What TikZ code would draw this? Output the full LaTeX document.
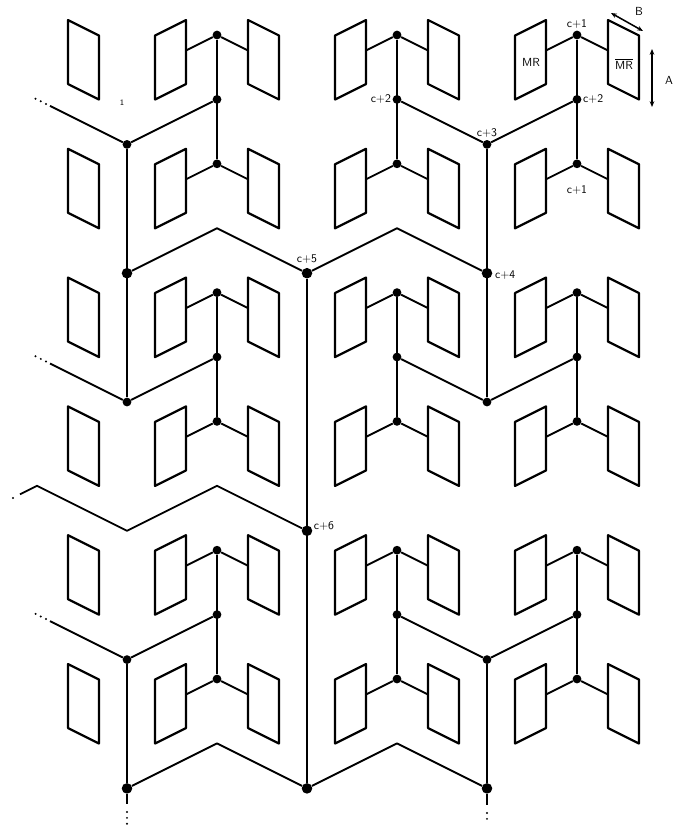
\documentclass[tikz,border=0pt]{standalone}
\usepackage{tikz}
\usetikzlibrary{arrows.meta, positioning, calc}

\tikzset{
  wire/.style={line width=1.6pt, line join=round},
  panel/.style={line width=1.9pt, line join=round},
  junction/.style={circle, fill=black, inner sep=0pt, minimum size=7.5pt},
  bigjunction/.style={junction, minimum size=9pt},
  lbl/.style={font=\sffamily\fontsize{10}{11}\selectfont, inner sep=1pt},
  dotsline/.style={line width=1.9pt, line cap=round, dash pattern=on 0pt off 5pt},
  dimline/.style={line width=1.3pt, {Stealth[length=5pt,width=4pt]}-{Stealth[length=5pt,width=4pt]}},
}

\begin{document}
\begin{tikzpicture}[x=0.03cm, y=-0.03cm]
  \useasboundingbox (0,0) rectangle (682,827);

  % left column: only the right-wall panels are visible
  \foreach \r in {0,...,5} {
    \coordinate (u-A-\r) at (37, {35+128.8*\r});
    \draw[panel] ($(u-A-\r)+(31,-15)$) -- ++(0,64) -- ++(31,15.5) -- ++(0,-64) -- cycle;
  }

  % corner units: node on the corner, one panel on each wall
  \foreach \g/\gx in {B/217, C/397, D/577} {
    \foreach \r in {0,...,5} {
      \node[junction] (u-\g-\r) at (\gx, {35+128.8*\r}) {};
      \coordinate (pl-\g-\r) at ($(u-\g-\r)+(-31,15.5)$);
      \coordinate (pr-\g-\r) at ($(u-\g-\r)+(31,15.5)$);
      \draw[panel] ($(u-\g-\r)+(-31,-15)$) -- ++(0,64) -- ++(-31,15.5) -- ++(0,-64) -- cycle;
      \draw[panel] ($(u-\g-\r)+(31,-15)$) -- ++(0,64) -- ++(31,15.5) -- ++(0,-64) -- cycle;
      \draw[wire] (pl-\g-\r) -- (u-\g-\r) -- (pr-\g-\r);
    }
    % pairs of units joined vertically
    \foreach \p/\a/\b in {0/0/1, 1/2/3, 2/4/5} {
      \draw[wire] (u-\g-\a) -- (u-\g-\b);
      \node[junction] (m-\g-\p) at (\gx, {99.4+257.6*\p}) {};
    }
  }

  % second level
  \foreach \p in {0,1,2} {
    \node[junction] (h-l-\p) at (127, {144.4+257.6*\p}) {};
    \node[junction] (h-r-\p) at (487, {144.4+257.6*\p}) {};
    \coordinate (e-\p) at ($(h-l-\p)+(-77,-38.5)$);
    \draw[wire] (m-B-\p) -- (h-l-\p) -- (e-\p);
    \draw[dotsline] ($(h-l-\p)+(-81,-40.5)$) -- ($(h-l-\p)+(-93,-46.5)$);
    \draw[wire] (m-C-\p) -- (h-r-\p) -- (m-D-\p);
  }

  % third level
  \node[bigjunction] (k-l) at (127,273.2) {};
  \node[bigjunction] (k-r) at (487,273.2) {};
  \node[bigjunction] (k-l2) at (127,788.4) {};
  \node[bigjunction] (k-r2) at (487,788.4) {};
  \draw[wire] (h-l-0) -- (h-l-1);
  \draw[wire] (h-r-0) -- (h-r-1);
  \draw[wire] (h-l-2) -- (k-l2);
  \draw[wire] (h-r-2) -- (k-r2);
  \coordinate (s-l) at (127,804);
  \coordinate (s-r) at (487,805);
  \draw[wire] (k-l2) -- (s-l);
  \draw[wire] (k-r2) -- (s-r);
  \draw[dotsline] (127,812) -- (127,827);
  \draw[dotsline] (487,813) -- (487,823);

  % fourth level (zigzag along the walls)
  \node[bigjunction] (c5) at (307,273.2) {};
  \node[bigjunction] (cb) at (307,788.4) {};
  \node[bigjunction] (c6) at (307,530.8) {};
  \coordinate (z1) at (217,228.2);
  \coordinate (z2) at (397,228.2);
  \coordinate (z3) at (217,743.4);
  \coordinate (z4) at (397,743.4);
  \draw[wire] (k-l) -- (z1) -- (c5) -- (z2) -- (k-r);
  \draw[wire] (k-l2) -- (z3) -- (cb) -- (z4) -- (k-r2);
  \draw[wire] (c5) -- (cb);

  % fifth level, leaving to the left
  \coordinate (z5) at (217,485.8);
  \coordinate (z6) at (127,530.8);
  \coordinate (z7) at (37,485.8);
  \coordinate (z8) at (20,494.3);
  \coordinate (z9) at (13,498);
  \draw[wire] (c6) -- (z5) -- (z6) -- (z7) -- (z8);
  \fill (z9) circle (1pt);

  % labels
  \node[lbl, above=0pt of u-D-0] (t1) {c+1};
  \node[lbl, left=0pt of m-C-0] (t2) {c+2};
  \node[lbl, right=0pt of m-D-0] (t3) {c+2};
  \node[lbl, above=1pt of h-r-0] (t4) {c+3};
  \node[lbl, below=13pt of u-D-1] (t5) {c+1};
  \node[lbl, right=1pt of k-r, yshift=-2pt] (t6) {c+4};
  \node[lbl, above=2pt of c5] (t7) {c+5};
  \node[lbl, right=0pt of c6, yshift=4pt] (t8) {c+6};
  \node[lbl, font=\sffamily\scriptsize] (stray) at (122,103) {1};
  \node[lbl] (mr) at ($(u-D-0)+(-46,27)$) {MR};
  \node[lbl] (mrbar) at ($(u-D-0)+(47,29)$) {$\overline{\mbox{MR}}$};

  % dimensions of a panel
  \coordinate (b1) at (611,13);
  \coordinate (b2) at (643,31);
  \draw[dimline] (b1) -- (b2);
  \node[lbl] (blbl) at (639,11) {B};
  \coordinate (a1) at (652,49);
  \coordinate (a2) at (652,107);
  \draw[dimline] (a1) -- (a2);
  \node[lbl] (albl) at (669,80) {A};
\end{tikzpicture}
\end{document}
